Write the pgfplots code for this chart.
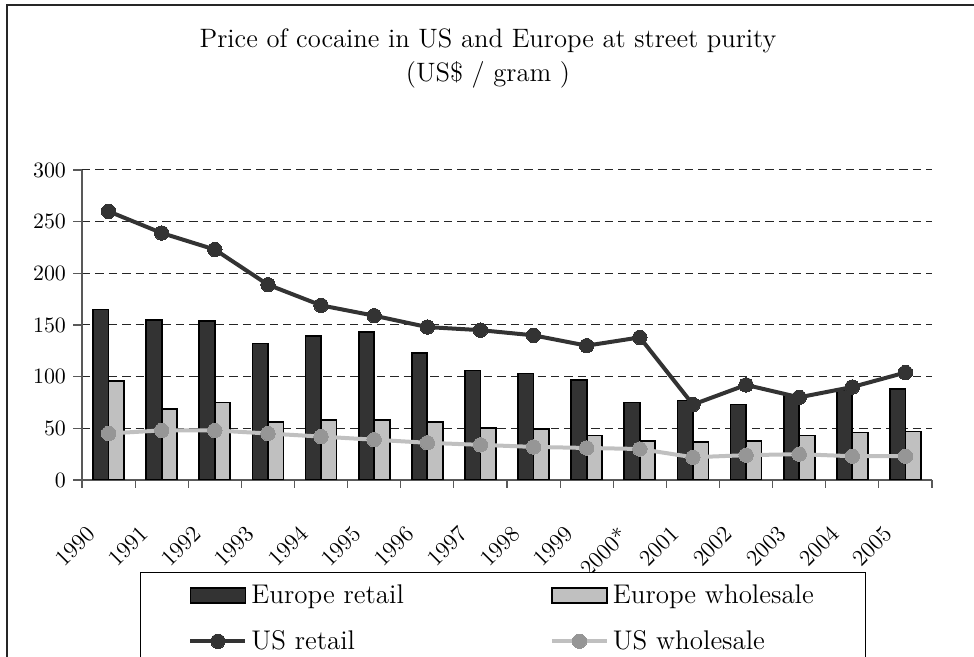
\documentclass[border=0pt]{standalone}
\usepackage{pgfplots}
\pgfplotsset{compat=1.18}
\definecolor{dk}{RGB}{51,51,51}
\definecolor{lt}{RGB}{192,192,192}
\definecolor{md}{RGB}{150,150,150}
\pgfplotsset{
  linelegend/.style={legend image code/.code={\draw[##1, mark repeat=2, mark phase=2] plot coordinates {(0pt,0pt) (13.75pt,0pt) (27.5pt,0pt)};}},
  darkbarlegend/.style={legend image code/.code={\draw[fill=dk,draw=black,line width=0.9pt] (0pt,-3.75pt) rectangle (27.5pt,3.75pt);}},
  lightbarlegend/.style={legend image code/.code={\draw[fill=lt,draw=black,line width=0.9pt] (0pt,-3.75pt) rectangle (27.5pt,3.75pt);}},
}
\begin{document}
\begin{tikzpicture}
\useasboundingbox (0,0) rectangle (487pt,328.5pt);
\clip (0,0) rectangle (487pt,328.5pt);
\draw[line width=1pt, black!85] (3.5pt,-20pt) -- (3.5pt,326pt) -- (520pt,326pt);
\node[anchor=base, inner sep=0pt, font=\fontsize{13.3}{16}\selectfont] at (244pt,304.5pt) {Price of cocaine in US and Europe at street purity};
\node[anchor=base, inner sep=0pt, font=\fontsize{13.3}{16}\selectfont] at (244pt,287.5pt) {(US\$ / gram )};
\begin{axis}[
  at={(41pt,88.5pt)}, anchor=south west,
  scale only axis, width=425pt, height=155pt,
  xmin=-0.5, xmax=15.5, ymin=0, ymax=300,
  axis x line*=bottom, axis y line*=left,
  axis line style={-, black!65, line width=0.6pt},
  ytick={0,50,...,300},
  ymajorgrids,
  major grid style={black!85, line width=0.5pt, dash pattern=on 4.2pt off 2.5pt},
  xtick={0,...,15},
  xticklabels={1990,1991,1992,1993,1994,1995,1996,1997,1998,1999,2000*,2001,2002,2003,2004,2005},
  major x tick style={draw=none},
  minor xtick={-0.5,0.5,...,15.5},
  minor x tick style={draw=black!65, line width=0.6pt},
  minor tick length=4pt,
  major tick length=4.5pt,
  y tick style={draw=black!65, line width=0.6pt},
  tick align=outside,
  yticklabel style={font=\fontsize{11}{13}\selectfont},
  xticklabel shift=6pt,
  xticklabel style={font=\fontsize{11.5}{14}\selectfont, xshift=-11.5pt, yshift=-7pt, rotate=45, anchor=north east},
  legend columns=2,
  legend cell align=left,
  legend style={at={(axis description cs:0.0682,-0.2968)}, anchor=north west,
    draw=black, line width=0.5pt, fill=white,
    font=\fontsize{13.5}{16}\selectfont,
    inner xsep=24pt, inner ysep=4pt, row sep=8pt,
    /tikz/every even column/.append style={column sep=71pt}},
]
\addplot[ybar, bar width=7.75pt, bar shift=-3.875pt, fill=dk, draw=black, line width=0.9pt, darkbarlegend]
  coordinates {(0,165) (1,155) (2,154) (3,132) (4,139) (5,143) (6,123) (7,106) (8,103) (9,97) (10,75) (11,77) (12,73) (13,82) (14,87) (15,88)};
\addlegendentry{Europe retail}
\addplot[ybar, bar width=7.75pt, bar shift=3.875pt, fill=lt, draw=black, line width=0.9pt, lightbarlegend]
  coordinates {(0,96) (1,69) (2,75) (3,56) (4,58) (5,58) (6,56) (7,50) (8,49) (9,43) (10,38) (11,37) (12,38) (13,43) (14,46) (15,47)};
\addlegendentry{Europe wholesale}
\addplot[dk, line width=2pt, mark=*, mark size=3.6pt, mark options={fill=dk, draw=dk, line width=0pt}, linelegend]
  coordinates {(0,260) (1,239) (2,223) (3,189) (4,169) (5,159) (6,148) (7,145) (8,140) (9,130) (10,138) (11,73) (12,92) (13,80) (14,90) (15,104)};
\addlegendentry{US retail}
\addplot[lt, line width=2pt, mark=*, mark size=3.6pt, mark options={fill=md, draw=md, line width=0pt}, linelegend]
  coordinates {(0,45) (1,48) (2,48) (3,45) (4,42) (5,39) (6,36) (7,34) (8,32) (9,31) (10,30) (11,22) (12,24) (13,25) (14,23) (15,23)};
\addlegendentry{US wholesale}
\end{axis}
\end{tikzpicture}
\end{document}
